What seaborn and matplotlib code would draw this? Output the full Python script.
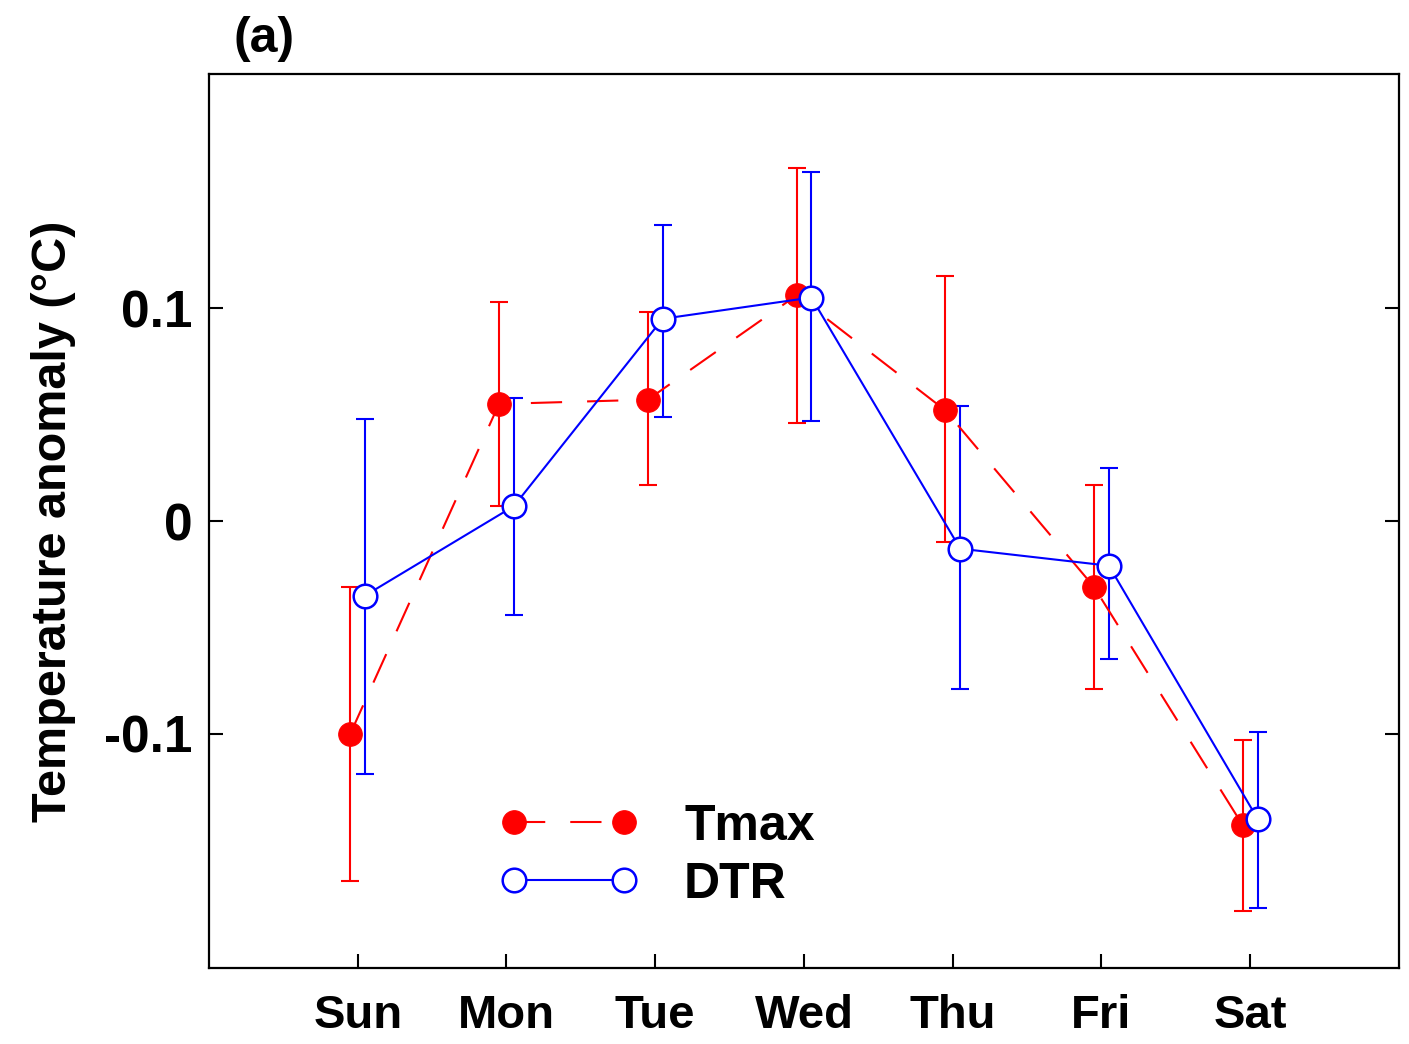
import seaborn as sns
import matplotlib.pyplot as plt
import pandas as pd
import numpy as np

sns.set_style("ticks")
plt.rcParams['font.family'] = ['Liberation Sans', 'DejaVu Sans']
plt.rcParams['text.color'] = 'black'
plt.rcParams['axes.labelcolor'] = 'black'
plt.rcParams['xtick.color'] = 'black'
plt.rcParams['ytick.color'] = 'black'
plt.rcParams['axes.edgecolor'] = 'black'

# ----------- Data -----------
days = ["Sun", "Mon", "Tue", "Wed", "Thu", "Fri", "Sat"]

tmax = [-0.100, 0.055, 0.057, 0.106, 0.052, -0.031, -0.143]
tmax_upper = [-0.031, 0.103, 0.098, 0.166, 0.115, 0.017, -0.103]
tmax_lower = [-0.169, 0.007, 0.017, 0.046, -0.010, -0.079, -0.183]

dtr = [-0.035, 0.007, 0.095, 0.105, -0.013, -0.021, -0.140]
dtr_upper = [0.048, 0.058, 0.139, 0.164, 0.054, 0.025, -0.099]
dtr_lower = [-0.119, -0.044, 0.049, 0.047, -0.079, -0.065, -0.182]

pos = np.arange(1, len(days) + 1)
df = pd.DataFrame({"pos": pos, "Day": days, "Tmax": tmax, "DTR": dtr})

# ----------- Figure -----------
fig = plt.figure(figsize=(14.09, 10.44), dpi=100)
ax = fig.add_axes([0.1483, 0.0728, 0.8446, 0.8563])

# error bars first so markers sit on top
ax.errorbar(df["pos"] - 0.05, tmax,
            yerr=[np.array(tmax) - np.array(tmax_lower), np.array(tmax_upper) - np.array(tmax)],
            fmt="none", ecolor="red", elinewidth=1.5, capsize=6.5, capthick=1.5, zorder=1)
ax.errorbar(df["pos"] + 0.05, dtr,
            yerr=[np.array(dtr) - np.array(dtr_lower), np.array(dtr_upper) - np.array(dtr)],
            fmt="none", ecolor="blue", elinewidth=1.5, capsize=6.5, capthick=1.5, zorder=1)

sns.lineplot(x=df["pos"] - 0.05, y=df["Tmax"], ax=ax, color="red", lw=1.5,
             marker="o", markersize=17, markeredgecolor="red", markerfacecolor="red",
             label="Tmax", zorder=3)
ax.lines[-1].set_dashes((15, 12))
sns.lineplot(x=df["pos"] + 0.05, y=df["DTR"], ax=ax, color="blue", lw=1.5,
             marker="o", markersize=17, markeredgecolor="blue", markerfacecolor="white",
             markeredgewidth=1.8, label="DTR", zorder=3)

# ----------- Axes styling -----------
ax.set_xlim(0, 8)
ax.set_ylim(-0.21, 0.21)
ax.set_xticks(pos)
ax.set_xticklabels(days)
ax.set_yticks([-0.1, 0, 0.1])
ax.set_yticklabels(["-0.1", "0", "0.1"])
ax.set_xlabel("")
ax.set_ylabel("Temperature anomaly (°C)", fontsize=35, fontweight="bold", labelpad=20)
ax.tick_params(axis="both", direction="in", length=10, width=1.5, pad=12)
ax.tick_params(axis="x", labelsize=34, pad=19)
ax.tick_params(axis="y", labelsize=37, right=True)
for lab in ax.get_xticklabels() + ax.get_yticklabels():
    lab.set_fontweight("bold")
for s in ax.spines.values():
    s.set_visible(True)
    s.set_linewidth(1.6)

ax.legend(loc="upper left", bbox_to_anchor=(0.206, 0.234), frameon=False, numpoints=2,
          handlelength=2.8, handletextpad=0.9, labelspacing=0.24, borderpad=0.4,
          prop={"size": 36, "weight": "bold"})

fig.text(0.166, 0.963, "(a)", fontsize=36, fontweight="bold", ha="left", va="center")

fig.savefig("out.png", dpi=100)
